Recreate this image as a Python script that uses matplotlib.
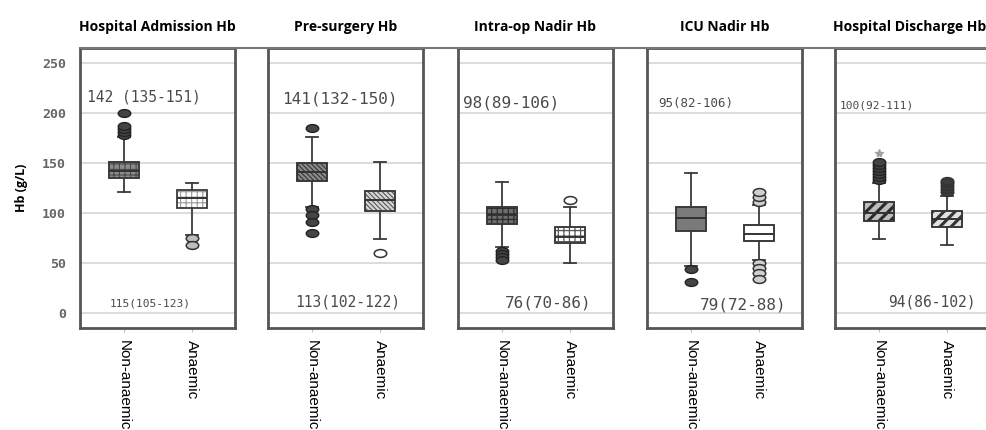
import numpy as np
import matplotlib
matplotlib.use("Agg")
import matplotlib.pyplot as plt
from matplotlib.path import Path
from matplotlib.patches import PathPatch
from matplotlib.transforms import Affine2D
from matplotlib.lines import Line2D

# ---- data -------------------------------------------------------------
panels = ["Hospital Admission Hb", "Pre-surgery Hb", "Intra-op Nadir Hb",
          "ICU Nadir Hb", "Hospital Discharge Hb"]
groups = ["Non-anaemic", "Anaemic"]
yticks = [0, 50, 100, 150, 200, 250]

# median (IQR) per time point
non_med = [142, 141, 98, 95, 100]
non_q1 = [135, 132, 89, 82, 92]
non_q3 = [151, 150, 106, 106, 111]
ana_med = [115, 113, 76, 79, 94]
ana_q1 = [105, 102, 70, 72, 86]
ana_q3 = [123, 122, 86, 88, 102]

# whisker ends
non_whislo = [121, 106, 66, 47, 74]
non_whishi = [176, 176, 131, 140, 130]
ana_whislo = [78, 74, 50, 53, 68]
ana_whishi = [130, 151, 106, 108, 117]

# outliers
non_fliers = [[178, 181, 184, 187, 200],
              [185, 104, 98, 91, 80],
              [62, 59, 56, 53],
              [44, 31],
              [133, 136, 139, 142, 145, 148, 151]]
ana_fliers = [[75, 68],
              [60],
              [113],
              [111, 116, 121, 50, 45, 40, 34],
              [121, 124, 127, 130, 132]]
non_extremes = [[], [], [], [], [160]]

# ---- styling ------------------------------------------------------------
fig_w, fig_h = 987, 430
panel_left_px = [80, 268, 458, 647, 835]
panel_w_px = 155
panel_top_px, panel_bot_px = 48, 328

non_face = ["#8c8c8c", "#8a8a8a", "#6e6e6e", "#7a7a7a", "#bdbdbd"]
non_hatch_col = ["#4a4a4a", "#353535", "#2e2e2e", "#3a3a3a", "#2a2a2a"]
ana_face = ["#ffffff", "#d6d6d6", "#ffffff", "#ffffff", "#e2e2e2"]
ana_hatch_col = ["#9a9a9a", "#555555", "#555555", "#3a3a3a", "#353535"]
hatches = ["+++", "\\" * 7, "+++", None, "///"]
hatch_lw = [0.8, 0.8, 0.9, 1.0, 2.2]
ana_flier_face = ["#bdbdbd", "#ffffff", "#ffffff", "#cfcfcf", "#3c3c3c"]

top_sep = [" ", "", "", "", ""]
top_pos = [(0.45, 216, 10.5), (0.56, 214, 11.5), (0.42, 210, 11.5), (0.51, 210, 9), (0.42, 208, 8)]
bot_pos = [(0.79, 10, 8), (0.75, 11, 10.5), (1.04, 10, 11.5), (1.13, 8, 11.5), (1.13, 11, 10.5)]
title_x = [0.5, 0.5, 0.5, 0.5, 0.48]

ellipse = Path.unit_circle().transformed(Affine2D().scale(1.6, 1.0))

fig = plt.figure(figsize=(fig_w / 100, fig_h / 100), dpi=100)
fig.patch.set_facecolor("white")

edge = "#3a3a3a"
for i in range(5):
    ax = fig.add_axes([panel_left_px[i] / fig_w, 1 - panel_bot_px / fig_h,
                       panel_w_px / fig_w, (panel_bot_px - panel_top_px) / fig_h])
    ax.set_xlim(0.35, 2.63)
    ax.set_ylim(-15, 265)
    for y in yticks:
        ax.axhline(y, color="#d9d9d9", lw=1.3, zorder=0)

    stats = [
        dict(med=non_med[i], q1=non_q1[i], q3=non_q3[i], whislo=non_whislo[i],
             whishi=non_whishi[i], fliers=[], label=groups[0]),
        dict(med=ana_med[i], q1=ana_q1[i], q3=ana_q3[i], whislo=ana_whislo[i],
             whishi=ana_whishi[i], fliers=[], label=groups[1]),
    ]
    bp = ax.bxp(stats, positions=[1, 2], widths=0.45, capwidths=0.17,
                patch_artist=True, showfliers=False,
                whiskerprops=dict(color=edge, lw=1.3),
                capprops=dict(color=edge, lw=1.3),
                medianprops=dict(color="#333333", lw=1.4),
                boxprops=dict(lw=1.2))
    faces = [non_face[i], ana_face[i]]
    hcols = [non_hatch_col[i], ana_hatch_col[i]]
    for box, fc, hc in zip(bp["boxes"], faces, hcols):
        box.set_facecolor(fc)
        if hatches[i]:
            box.set_hatch(hatches[i])
            box.set_edgecolor(hc)
            if hasattr(box, "set_hatch_linewidth"):
                box.set_hatch_linewidth(hatch_lw[i])
        else:
            box.set_edgecolor(edge)
        box.set_zorder(2)
        outline = PathPatch(box.get_path(), transform=box.get_transform(),
                            facecolor="none", edgecolor=edge, lw=1.2, zorder=3)
        ax.add_patch(outline)
    for med in bp["medians"]:
        med.set_zorder(4)

    # outliers
    ax.plot([1] * len(non_fliers[i]), non_fliers[i], linestyle="none",
            marker=ellipse, markersize=9, markerfacecolor="#454545",
            markeredgecolor="#222222", markeredgewidth=1.0, zorder=5)
    ax.plot([2] * len(ana_fliers[i]), ana_fliers[i], linestyle="none",
            marker=ellipse, markersize=9, markerfacecolor=ana_flier_face[i],
            markeredgecolor="#333333", markeredgewidth=1.1, zorder=5)
    if non_extremes[i]:
        ax.plot([1] * len(non_extremes[i]), non_extremes[i], linestyle="none",
                marker="*", markersize=6, color="#a0a0a0", zorder=5)

    # median (IQR) annotations
    tx, ty, ts = top_pos[i]
    ax.text(tx, ty, f"{non_med[i]}{top_sep[i]}({non_q1[i]}-{non_q3[i]})",
            ha="left", va="center", fontsize=ts, family="DejaVu Sans Mono",
            color="#4a4a4a")
    bx, by, bs = bot_pos[i]
    ax.text(bx, by, f"{ana_med[i]}({ana_q1[i]}-{ana_q3[i]})",
            ha="left", va="center", fontsize=bs, family="DejaVu Sans Mono",
            color="#4a4a4a")

    for sp in ax.spines.values():
        sp.set_color("#555555")
        sp.set_linewidth(2.0)

    ax.set_xticks([1, 2])
    ax.set_xticklabels(groups, rotation=270, va="top", ha="center",
                       fontsize=11, family="Liberation Sans")
    ax.tick_params(axis="x", length=3, color="#c0c0c0", pad=6)
    ax.set_title(panels[i], fontsize=10, fontweight="bold", family="Open Sans",
                 pad=12, x=title_x[i])
    if i == 0:
        ax.set_yticks(yticks)
        ax.set_yticklabels([str(v) for v in yticks], fontsize=9.5,
                           family="DejaVu Sans Mono", fontweight="bold",
                           color="#666666")
        ax.tick_params(axis="y", length=0, pad=10)
        ax.set_ylabel("Hb (g/L)", fontsize=9, fontweight="bold",
                      family="Open Sans", labelpad=10)
    else:
        ax.set_yticks([])

# rule running along the top of the panels
fig.add_artist(Line2D([panel_left_px[0] / fig_w, 1.0],
                      [1 - panel_top_px / fig_h] * 2,
                      transform=fig.transFigure, color="#777777", lw=1.5))

fig.savefig("out.png", dpi=100)
